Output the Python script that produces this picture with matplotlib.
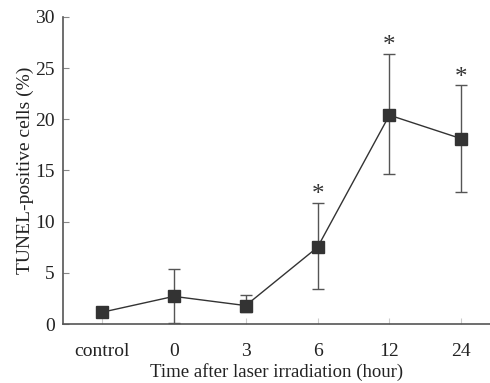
import matplotlib.pyplot as plt

# Data
categories = ['control', '0', '3', '6', '12', '24']
means = [1.15, 2.7, 1.8, 7.5, 20.4, 18.1]
err_low = [0.0, 2.6, 0.6, 4.1, 5.7, 5.2]
err_high = [0.0, 2.7, 1.0, 4.3, 6.0, 5.2]
significant = [False, False, False, True, True, True]

plt.rcParams['font.family'] = ['Liberation Serif', 'DejaVu Serif']

fig = plt.figure(figsize=(4.9, 3.83), dpi=100)
ax = fig.add_axes([0.129, 0.154, 0.871, 0.802])

x = list(range(len(categories)))
ax.errorbar(x, means, yerr=[err_low, err_high], color='#333333',
            ecolor='#555555', elinewidth=1.0, capsize=4, capthick=1.0,
            marker='s', markersize=9, linewidth=1.0)

# asterisks above significant points
for xi, m, e, s in zip(x, means, err_high, significant):
    if s:
        ax.text(xi, m + e - 0.3, '*', ha='center', va='bottom',
                fontsize=18, color='#333333')

ax.set_xlim(-0.54, 5.4)
ax.set_ylim(0, 30)
ax.set_yticks(range(0, 31, 5))
ax.set_xticks(x)
ax.set_xticklabels(categories)

for side in ['top', 'right']:
    ax.spines[side].set_visible(False)
for side in ['left', 'bottom']:
    ax.spines[side].set_color('#555555')
    ax.spines[side].set_linewidth(1.2)

ax.tick_params(axis='y', direction='in', length=4, color='#888888',
               labelsize=14, labelcolor='#222222', pad=6)
ax.tick_params(axis='x', direction='in', length=4, color='#cccccc',
               labelsize=14, labelcolor='#222222', pad=14)

ax.set_xlabel('Time after laser irradiation (hour)', fontsize=13.5,
              color='#222222', labelpad=2)
ax.set_ylabel('TUNEL-positive cells (%)', fontsize=14, color='#222222',
              labelpad=1)

fig.savefig('out.png', dpi=100)
